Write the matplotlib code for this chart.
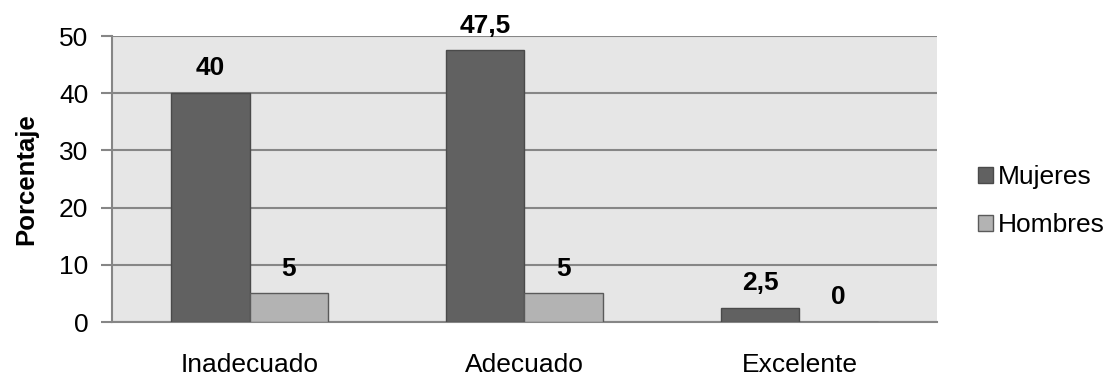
import numpy as np
import matplotlib.pyplot as plt

plt.rcParams['font.family'] = ['Liberation Sans', 'DejaVu Sans']

# valores por categoria
categorias = ['Inadecuado', 'Adecuado', 'Excelente']
mujeres = [40, 47.5, 2.5]
hombres = [5, 5, 0]
etiquetas_m = ['40', '47,5', '2,5']
etiquetas_h = ['5', '5', '0']

fig = plt.figure(figsize=(11.07, 3.75), dpi=100)
ax = fig.add_axes([0.1012, 0.1413, 0.7452, 0.7627])

x = np.arange(len(categorias))
w = 0.285
ax.bar(x - w / 2, mujeres, w, color='#616161', edgecolor='#4a4a4a', linewidth=1, label='Mujeres', zorder=3)
ax.bar(x + w / 2, hombres, w, color='#b3b3b3', edgecolor='#5a5a5a', linewidth=1, label='Hombres', zorder=3)

# etiquetas de valor sobre las barras
for xi, v, t in zip(x - w / 2, mujeres, etiquetas_m):
    ax.text(xi, v + 3.1, t, ha='center', va='baseline', fontsize=19, fontweight='bold')
for xi, v, t in zip(x + w / 2, hombres, etiquetas_h):
    ax.text(xi, v + 3.1, t, ha='center', va='baseline', fontsize=19, fontweight='bold')

ax.set_xlim(-0.5, 2.5)
ax.set_ylim(0, 50)
ax.set_yticks(range(0, 51, 10))
ax.set_xticks(x)
ax.set_xticklabels(categorias, fontsize=19)
ax.tick_params(axis='y', labelsize=19, length=8, width=1.5, color='#868686', pad=9)
ax.tick_params(axis='x', length=0, pad=22)
ax.set_facecolor('#e6e6e6')
ax.grid(axis='y', color='#868686', linewidth=1.5, zorder=0)
ax.set_axisbelow(True)
for s in ['top', 'right']:
    ax.spines[s].set_visible(False)
ax.spines['left'].set_color('#868686')
ax.spines['left'].set_linewidth(1.5)
ax.spines['bottom'].set_color('#868686')
ax.spines['bottom'].set_linewidth(1.5)

ax.set_ylabel('Porcentaje', fontsize=18.5, fontweight='bold', labelpad=15)

ax.legend(loc='center left', bbox_to_anchor=(1.0498, 0.4225), frameon=False, fontsize=19,
          borderpad=0, borderaxespad=0,
          handlelength=0.55, handleheight=0.55, handletextpad=0.19, labelspacing=0.93)

fig.savefig('out.png', dpi=100)
